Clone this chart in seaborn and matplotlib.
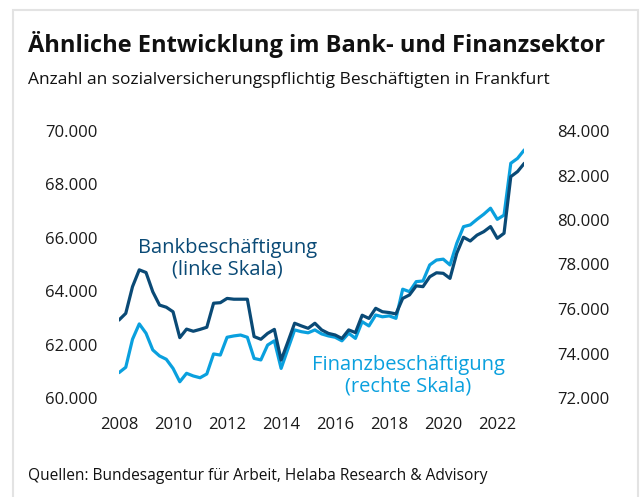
import numpy as np
import pandas as pd
import matplotlib
matplotlib.use("Agg")
import matplotlib.pyplot as plt
import matplotlib.patches as patches
import seaborn as sns

# ── Data (quarterly, 2008Q1 .. 2023Q1) ─────────────────────
quarters = pd.date_range("2008-01-01", periods=61, freq="QS")
bank = [62.92, 63.17, 64.17, 64.80, 64.70, 63.98, 63.48, 63.40, 63.23, 62.26,
        62.58, 62.50, 62.57, 62.65, 63.55, 63.57, 63.73, 63.70, 63.70, 63.70,
        62.30, 62.20, 62.42, 62.57, 61.42, 62.10, 62.80, 62.70, 62.61, 62.80,
        62.55, 62.42, 62.36, 62.23, 62.55, 62.45, 63.10, 62.98, 63.36, 63.23,
        63.20, 63.15, 63.73, 63.86, 64.20, 64.17, 64.54, 64.69, 64.67, 64.48,
        65.42, 66.02, 65.88, 66.10, 66.23, 66.42, 65.98, 66.17, 68.29, 68.48,
        68.79]
finanz = [73.14, 73.38, 74.64, 75.33, 74.91, 74.16, 73.89, 73.74, 73.33, 72.73,
          73.11, 72.99, 72.91, 73.08, 73.98, 73.93, 74.73, 74.79, 74.83, 74.73,
          73.78, 73.71, 74.38, 74.57, 73.33, 74.20, 75.06, 74.98, 74.93, 75.06,
          74.88, 74.79, 74.73, 74.57, 74.91, 74.68, 75.43, 75.24, 75.73, 75.65,
          75.69, 75.58, 76.89, 76.78, 77.23, 77.26, 77.98, 78.20, 78.24, 77.98,
          78.95, 79.70, 79.78, 80.03, 80.26, 80.53, 80.03, 80.22, 82.55, 82.77,
          83.15]
left_ticks = [60, 62, 64, 66, 68, 70]
right_ticks = [72, 74, 76, 78, 80, 82, 84]
year_ticks = [2008, 2010, 2012, 2014, 2016, 2018, 2020, 2022]

df = pd.DataFrame({"t": quarters.year + (quarters.month - 1) / 12,
                   "bank": bank, "finanz": finanz})

DARK = "#0a4a76"
LIGHT = "#0aa0de"

sns.set_style("white")
plt.rcParams["font.family"] = ["Open Sans", "DejaVu Sans"]

fig = plt.figure(figsize=(6.4, 4.97), dpi=100)
W, H = 640, 497

# frame
fig.patches.append(patches.Rectangle((13 / W, -0.05), (638 - 13) / W, 1.05 - 10 / H,
                                     transform=fig.transFigure, fill=False,
                                     edgecolor="#e3e3e3", lw=1.5))

ax = fig.add_axes([119 / W, 1 - 398 / H, 405.3 / W, 267 / H])
ax2 = ax.twinx()

sns.lineplot(data=df, x="t", y="bank", ax=ax, color=DARK, lw=2.3)
sns.lineplot(data=df, x="t", y="finanz", ax=ax2, color=LIGHT, lw=2.3)
ax.set_zorder(ax2.get_zorder() + 1)
ax.patch.set_visible(False)

ax.set_xlim(2008, 2023)
ax.set_ylim(60, 70)
ax2.set_ylim(72, 84)
ax.set_xticks(year_ticks)
ax.set_xticklabels([str(y) for y in year_ticks])
ax.set_yticks(left_ticks)
ax.set_yticklabels([f"{v}.000" for v in left_ticks])
ax2.set_yticks(right_ticks)
ax2.set_yticklabels([f"{v}.000" for v in right_ticks])
for a in (ax, ax2):
    a.set_xlabel("")
    a.set_ylabel("")
    for s in a.spines.values():
        s.set_visible(False)
    a.grid(False)
ax.tick_params(axis="y", length=0, pad=15.5, labelsize=12, labelcolor="#1a1a1a")
ax.tick_params(axis="x", length=0, pad=14, labelsize=12, labelcolor="#1a1a1a")
ax2.tick_params(axis="y", length=0, pad=23.5, labelsize=12, labelcolor="#1a1a1a")

ax.text(2012.0, 65.2, "Bankbeschäftigung\n(linke Skala)", color=DARK,
        fontsize=14.5, ha="center", va="center", linespacing=1.1)
ax2.text(2018.7, 73.0, "Finanzbeschäftigung\n(rechte Skala)", color=LIGHT,
         fontsize=14.5, ha="center", va="center", linespacing=1.1)

fig.text(28 / W, 1 - 45 / H, "Ähnliche Entwicklung im Bank- und Finanzsektor",
         fontsize=17, fontweight="bold", color="#111111", va="center")
fig.text(28 / W, 1 - 80 / H, "Anzahl an sozialversicherungspflichtig Beschäftigten in Frankfurt",
         fontsize=12.5, color="#111111", va="center")
fig.text(28 / W, 1 - 476 / H, "Quellen: Bundesagentur für Arbeit, Helaba Research & Advisory",
         fontsize=11.2, color="#111111", va="center")

fig.savefig("out.png", dpi=100)
